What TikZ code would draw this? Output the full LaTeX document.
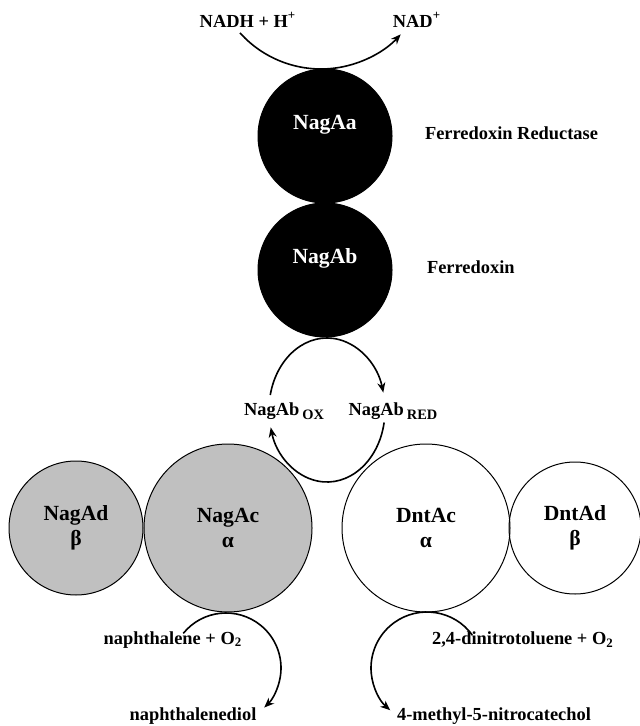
\documentclass[tikz,border=0pt]{standalone}
\usepackage{fontspec}
\setmainfont{Liberation Serif}
\usetikzlibrary{arrows.meta,positioning}
\definecolor{naggray}{RGB}{192,192,192}
\newcommand{\lowsub}[1]{\raisebox{-2pt}{\fontsize{7.2}{9}\selectfont #1}}

\begin{document}
\begin{tikzpicture}[x=0.5pt, y=-0.5pt,
    every node/.style={font=\bfseries\fontsize{9.2}{11}\selectfont},
    disk/.style={circle, draw=black, line width=0.5pt, inner sep=0pt, align=center,
        font=\bfseries\fontsize{10.8}{12.5}\selectfont},
    flow/.style={line width=0.8pt, -{Stealth[length=5pt,width=4pt]}}]
    \useasboundingbox (0,0) rectangle (639,726);

    % Ferredoxin reductase and ferredoxin
    \node[disk, fill=black, minimum size=67pt] (aa) at (325,136) {};
    \node[disk, fill=black, minimum size=67pt] (ab) at (325,270) {};
    \node[disk, draw=none, text=white] at ([yshift=5.5pt]aa.center) {NagAa};
    \node[disk, draw=none, text=white] at ([yshift=6pt]ab.center) {NagAb};
    \node[anchor=west] (fdr) at (418,133) {Ferredoxin Reductase};
    \node[anchor=west] (fd) at (420,267) {Ferredoxin};

    % NADH oxidation
    \node (nadh) at (248,20) {NADH + H\textsuperscript{+}};
    \node (nad) at (417,20) {NAD\textsuperscript{+}};
    \coordinate (nadhub) at (321,-40);
    \draw[flow] ([shift={(222:54.5pt)}]nadhub) arc[start angle=222, end angle=317, radius=54.5pt];

    % Dioxygenase subunits
    \node[disk, fill=naggray, minimum size=67pt] (ad) at (76,528) {NagAd\\β};
    \node[disk, fill=naggray, minimum size=84pt] (ac) at (228,528) {NagAc\\α};
    \node[disk, minimum size=84pt] (dc) at (426,528) {DntAc\\α};
    \node[disk, minimum size=66pt] (dd) at (575,528) {DntAd\\β};

    % Ferredoxin redox cycle
    \coordinate (cyc) at (327,410);
    \node (abox) at (284,411) {NagAb\,\lowsub{OX}};
    \node (abred) at (393,411) {NagAb\,\lowsub{RED}};
    \draw[flow] ([shift={(168:29pt and 36pt)}]cyc)
        arc[start angle=168, end angle=14, x radius=29pt, y radius=36pt];
    \draw[flow] ([shift={(-10:29pt and 36pt)}]cyc)
        arc[start angle=-10, end angle=-166, x radius=29pt, y radius=36pt];

    % Substrate conversions
    \node (naph) at (173,640) {naphthalene + O\textsubscript{2}};
    \node (diol) at (193,716) {naphthalenediol};
    \node (dnt) at (523,640) {2,4-dinitrotoluene + O\textsubscript{2}};
    \node (mnc) at (494,716) {4-methyl-5-nitrocatechol};
    \coordinate (nagturn) at (226,668);
    \coordinate (dntturn) at (427,668);
    \draw[flow] ([shift={(141:27.5pt)}]nagturn) arc[start angle=141, end angle=-46, radius=27.5pt];
    \draw[flow] ([shift={(36:28pt)}]dntturn) arc[start angle=36, end angle=229, radius=28pt];
\end{tikzpicture}
\end{document}
